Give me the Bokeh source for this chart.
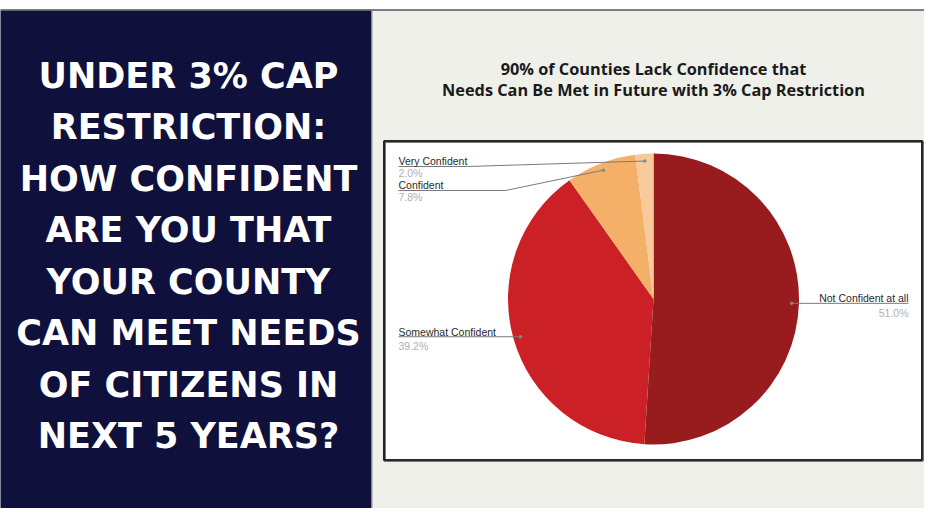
import math
from bokeh.plotting import figure
from bokeh.models import Range1d, ColumnDataSource
from bokeh.core.properties import value
from bokeh.embed import file_html
from bokeh.resources import INLINE

# ---- data ----
categories = ["Not Confident at all", "Somewhat Confident", "Confident", "Very Confident"]
percents = [51.0, 39.2, 7.8, 2.0]
colors = ["#981b1e", "#cb2026", "#f4b068", "#f7c99b"]
title_lines = ["90% of Counties Lack Confidence that",
               "Needs Can Be Met in Future with 3% Cap Restriction"]
side_lines = ["UNDER 3% CAP", "RESTRICTION:", "HOW CONFIDENT", "ARE YOU THAT",
              "YOUR COUNTY", "CAN MEET NEEDS", "OF CITIZENS IN", "NEXT 5 YEARS?"]

W, H = 924, 508
def X(x):  # reference px -> figure coords
    return x
def Y(y):
    return H - y

p = figure(width=W, height=H, output_backend="svg", toolbar_location=None,
           x_range=Range1d(0, W), y_range=Range1d(0, H), min_border=0)
p.axis.visible = False
p.grid.visible = False
p.outline_line_color = None
p.background_fill_color = "white"
p.border_fill_color = "white"

# panels
p.quad(left=[X(-10)], right=[X(371)], bottom=[Y(540)], top=[Y(10)],
       fill_color="#10103d", line_color=None)
p.quad(left=[X(372)], right=[X(930)], bottom=[Y(540)], top=[Y(10)],
       fill_color="#f0f0eb", line_color=None)
p.line([X(-10), X(940)], [Y(9.5), Y(9.5)], line_color="#555555", line_width=1.5)
p.line([X(371.5), X(371.5)], [Y(10), Y(540)], line_color="#8a8a95", line_width=1)
p.line([X(930), X(930)], [Y(10), Y(540)], line_color="#333333", line_width=1.5)

# chart box
p.quad(left=[X(384)], right=[X(922)], bottom=[Y(460)], top=[Y(141)],
       fill_color="white", line_color="#777777", line_width=3)
p.quad(left=[X(383.5)], right=[X(921.5)], bottom=[Y(459.5)], top=[Y(140.5)],
       fill_color=None, line_color="#111111", line_width=1.6)

# title
p.text(x=[X(653)] * 2, y=[Y(68), Y(89.5)], text=title_lines,
       text_font=value("Open Sans"), text_font_style="bold", text_font_size="16.3px",
       text_color="#1a1a1a", text_align="center", text_baseline="middle")

# side text
side_y = [Y(75 + i * 51.5) for i in range(len(side_lines))]
p.text(x=[X(188)] * len(side_lines), y=side_y, text=side_lines,
       text_font=value("DejaVu Sans"), text_font_style="bold", text_font_size="35px",
       text_color="white", text_align="center", text_baseline="middle")

# pie
cx, cy, r = X(653), Y(298.5), 145.5
total = sum(percents)
starts, ends, mids = [], [], []
acc = 0.0
for v in percents:
    a0 = math.pi / 2 - 2 * math.pi * acc / total
    acc += v
    a1 = math.pi / 2 - 2 * math.pi * acc / total
    starts.append(a0)
    ends.append(a1)
    mids.append((a0 + a1) / 2)
src = ColumnDataSource(dict(start=starts, end=ends, color=colors, cat=categories))
p.wedge(x=cx, y=cy, radius=r, start_angle="start", end_angle="end",
        direction="clock", fill_color="color", line_color=None, source=src)

# leader lines / labels
rd = 0.95 * r
dots = [(cx + rd * math.cos(m), cy + rd * math.sin(m)) for m in mids]
lc = "#7a7a7a"
d = dots[0]
p.line([d[0], X(908)], [d[1], d[1]], line_color=lc, line_width=1)
d = dots[1]
p.line([X(398), d[0]], [d[1], d[1]], line_color=lc, line_width=1)
d = dots[2]
p.line([X(398), X(505), d[0]], [Y(190), Y(190), d[1]], line_color=lc, line_width=1)
d = dots[3]
p.line([X(398), X(467), d[0]], [Y(166), Y(166), d[1]], line_color=lc, line_width=1)
p.scatter(x=[q[0] for q in dots], y=[q[1] for q in dots], size=3.5,
          fill_color="#888888", line_color=None)

pct_text = ["%.1f%%" % v for v in percents]
lab_font = value("Liberation Sans")
left_idx = [3, 2, 1]
left_name_y = [Y(160), Y(184), Y(331.5)]
left_pct_y = [Y(172.5), Y(196.5), Y(345)]
p.text(x=[X(398)] * 3, y=left_name_y, text=[categories[i] for i in left_idx],
       text_font=lab_font, text_font_size="10.5px", text_color="#2a2a2a",
       text_align="left", text_baseline="middle")
p.text(x=[X(398)] * 3, y=left_pct_y, text=[pct_text[i] for i in left_idx],
       text_font=lab_font, text_font_size="10.5px", text_color="#b0b0b0",
       text_align="left", text_baseline="middle")
p.text(x=[X(908)], y=[Y(297)], text=[categories[0]],
       text_font=lab_font, text_font_size="10.5px", text_color="#2a2a2a",
       text_align="right", text_baseline="middle")
p.text(x=[X(908)], y=[Y(312)], text=[pct_text[0]],
       text_font=lab_font, text_font_size="10.5px", text_color="#b0b0b0",
       text_align="right", text_baseline="middle")

open("out.html", "w").write(file_html(p, INLINE))
